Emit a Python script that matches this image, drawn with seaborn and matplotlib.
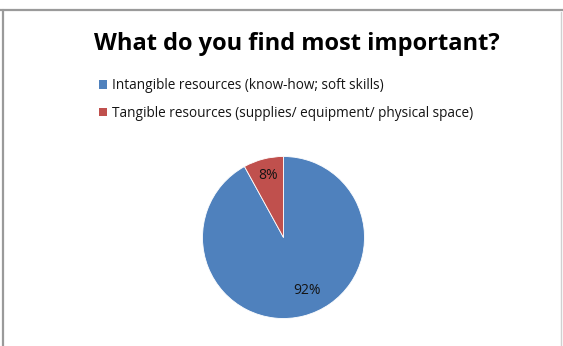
import matplotlib
matplotlib.use("Agg")
import matplotlib.pyplot as plt
from matplotlib.patches import Patch
from matplotlib.lines import Line2D
import seaborn as sns

# Survey answers
categories = [
    "Intangible resources (know-how; soft skills)",
    "Tangible resources (supplies/ equipment/ physical space)",
]
shares = [92, 8]
pct_labels = ["92%", "8%"]
colors = ["#4F81BD", "#C0504D"]

sns.set_theme(style="white")
plt.rcParams["font.family"] = ["Open Sans", "DejaVu Sans"]

W, H = 563, 346
fig = plt.figure(figsize=(W / 100, H / 100), dpi=100)
fig.patch.set_facecolor("white")

# pie axes: centre (283.5, 237.5) px, radius 81 px
cx, cy, r = 283.5, 237.5, 81
ax = fig.add_axes([(cx - r) / W, (H - cy - r) / H, 2 * r / W, 2 * r / H])
wedges, _ = ax.pie(shares, colors=colors, startangle=90, counterclock=False,
                   wedgeprops=dict(linewidth=0.6, edgecolor="white"))
ax.set_xlim(-1, 1)
ax.set_ylim(-1, 1)
ax.set_aspect("equal")
ax.axis("off")

# percentage labels
ax.text(0.29, -0.65, pct_labels[0], ha="center", va="center",
        fontsize=10, color="#141414")
ax.text(-0.19, 0.77, pct_labels[1], ha="center", va="center",
        fontsize=10, color="#141414")

fig.text(297 / W, 1 - 44 / H, "What do you find most important?",
         ha="center", va="center", fontsize=17, fontweight="bold", color="black")

handles = [Patch(facecolor=c, edgecolor="none") for c in colors]
fig.legend(handles, categories, loc="upper left",
           bbox_to_anchor=(99 / W, 1 - 78 / H), frameon=False,
           fontsize=9.8, handlelength=0.6, handleheight=0.6, handletextpad=0.33,
           labelspacing=0.95, borderpad=0, borderaxespad=0,
           labelcolor="#141414")

# outer frame
gray = "#9a9a9a"
fig.add_artist(Line2D([0, 1], [1 - 9.5 / H, 1 - 9.5 / H], color=gray, lw=1.6,
                      transform=fig.transFigure))
fig.add_artist(Line2D([3 / W, 3 / W], [0, 1 - 9.5 / H], color=gray, lw=1.6,
                      transform=fig.transFigure))
fig.add_artist(Line2D([561 / W, 561 / W], [0, 1 - 12 / H], color="#d0d0d0", lw=1.0,
                      transform=fig.transFigure))

fig.savefig("out.png", dpi=100, facecolor="white")
